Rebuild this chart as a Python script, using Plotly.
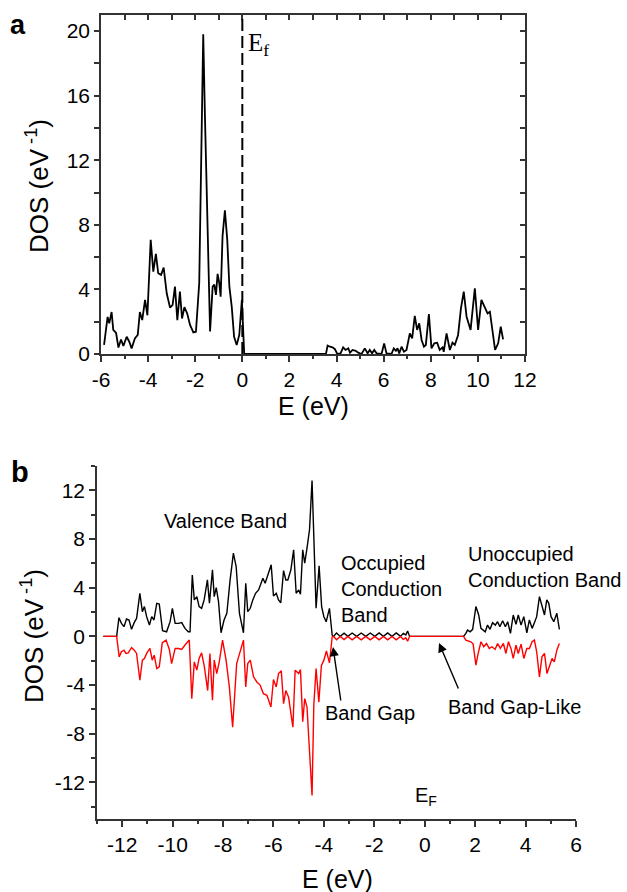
import plotly.graph_objects as go

# ---------------- data: panel a ----------------
a_energy = [-5.87, -5.72, -5.65, -5.55, -5.48, -5.36, -5.26, -5.15, -5.05, -4.91, -4.8, -4.7,
            -4.56, -4.44, -4.35, -4.25, -4.13, -4.03, -3.89, -3.78, -3.67, -3.57, -3.45, -3.34,
            -3.21, -3.07, -2.96, -2.86, -2.76, -2.65, -2.56, -2.46, -2.34, -2.22, -2.08, -1.97,
            -1.83, -1.73, -1.66, -1.59, -1.49, -1.37, -1.26, -1.19, -1.12, -1.05, -0.98, -0.92,
            -0.84, -0.74, -0.64, -0.55, -0.45, -0.35, -0.24, -0.13, -0.02, 0.04, 0.08,
            3.55, 3.62, 3.72, 3.83, 3.93, 4.03, 4.17, 4.28, 4.38, 4.5, 4.57, 4.68, 4.81, 4.92,
            5.06, 5.2, 5.32, 5.41, 5.51, 5.6, 5.7, 5.91, 6.02, 6.12, 6.33, 6.43, 6.52, 6.59,
            6.66, 6.76, 6.86, 6.97, 7.11, 7.21, 7.32, 7.42, 7.51, 7.61, 7.71, 7.79, 7.92, 8.03,
            8.15, 8.27, 8.38, 8.5, 8.55, 8.67, 8.81, 8.92, 9.02, 9.16, 9.28, 9.4, 9.52, 9.69,
            9.87, 10.01, 10.15, 10.29, 10.41, 10.51, 10.65, 10.73, 10.86, 10.97, 11.07]
a_dos = [0.56, 2.3, 1.9, 2.6, 1.5, 1.3, 0.4, 0.9, 0.5, 1.07, 0.76, 0.35,
         0.97, 1.18, 2.6, 2.1, 3.35, 2.4, 7.07, 5.1, 6.2, 5.0, 4.9, 5.35,
         3.76, 2.87, 3.04, 4.17, 2.1, 3.86, 2.2, 2.9, 2.5, 1.8, 1.34, 1.38,
         4.4, 14.5, 19.8, 14.9, 7.9, 1.4, 4.17, 4.3, 3.66, 4.96, 4.4, 3.55,
         7.3, 8.9, 7.07, 4.17, 2.93, 1.07, 0.56, 1.18, 3.35, 0.87, 0.0,
         0.0, 0.52, 0.45, 0.41, 0.3, 0.0, 0.04, 0.41, 0.25, 0.35, 0.08, 0.25, 0.2, 0.08,
         0.0, 0.35, 0.04, 0.25, 0.04, 0.25, 0.04, 0.0, 0.66, 0.04, 0.0, 0.35, 0.2, 0.35,
         0.04, 0.45, 0.14, 0.25, 1.28, 0.97, 2.36, 1.49, 1.9, 0.87, 0.45, 0.56, 2.48, 0.35,
         0.66, 0.7, 0.25, 0.41, 0.14, 1.28, 0.25, 0.7, 0.56, 1.18, 2.83, 3.86, 2.31, 1.49,
         4.07, 1.49, 3.35, 2.93, 2.52, 2.62, 1.28, 0.25, 0.66, 1.69, 0.91]

# ---------------- data: panel b (spin up, black) ----------------
b_energy_up = [-12.75, -12.22, -12.13, -12.03, -11.93, -11.83, -11.73, -11.63, -11.52, -11.43,
               -11.3, -11.2, -11.12, -11.03, -10.92, -10.83, -10.74, -10.63, -10.53, -10.4,
               -10.24, -10.1, -10.01, -9.9, -9.77, -9.64, -9.51, -9.38, -9.31, -9.22, -9.14,
               -9.04, -8.95, -8.85, -8.75, -8.62, -8.54, -8.42, -8.35, -8.27, -8.18, -8.08,
               -7.96, -7.85, -7.72, -7.59, -7.48, -7.35, -7.19, -7.1, -7.02, -6.92, -6.82,
               -6.71, -6.59, -6.5, -6.42, -6.33, -6.2, -6.09, -6.0, -5.89, -5.8, -5.71, -5.6,
               -5.51, -5.43, -5.31, -5.2, -5.1, -5.0, -4.93, -4.84, -4.76, -4.67, -4.57, -4.47,
               -4.4, -4.31, -4.19, -4.09, -4.0, -3.91, -3.78, -3.67,
               -3.62, -3.5, -3.35, -3.2, -3.05, -2.88, -2.7, -2.52, -2.34, -2.16, -1.98, -1.81,
               -1.64, -1.47, -1.3, -1.13, -0.96, -0.85, -0.75, -0.68, -0.6,
               1.54, 1.63, 1.7, 1.8, 1.9, 2.03, 2.14, 2.23, 2.34, 2.4, 2.49, 2.59, 2.69, 2.8,
               2.89, 2.98, 3.09, 3.2, 3.29, 3.4, 3.51, 3.62, 3.71, 3.82, 3.93, 4.05, 4.15,
               4.26, 4.35, 4.44, 4.55, 4.65, 4.75, 4.84, 4.92, 5.01, 5.12, 5.24, 5.34]
b_dos_up = [0.0, 0.0, 1.54, 1.07, 0.8, 1.43, 1.35, 0.58, 1.15, 1.48,
            3.54, 2.03, 2.45, 1.62, 0.93, 1.62, 1.35, 2.72, 2.66, 0.47,
            0.38, 1.21, 2.31, 1.07, 1.07, 1.13, 0.66, 0.38, 0.38, 5.05, 3.0,
            3.27, 2.45, 2.31, 3.0, 4.64, 2.72, 5.47, 3.27, 4.01, 2.86, 0.3,
            1.35, 1.9, 4.64, 6.84, 5.74, 1.9, 0.3, 4.37, 2.03, 2.31, 3.0,
            3.54, 3.82, 4.37, 4.78, 4.37, 5.19, 5.88, 3.32, 3.54, 3.0, 2.77, 5.41,
            4.64, 4.64, 5.47, 7.12, 3.54, 3.82, 3.46, 7.12, 6.02, 7.25, 8.76, 12.8,
            7.66, 2.31, 5.8, 2.45, 1.62, 1.2, 2.31, 0.1,
            0.0, 0.28, 0.0, 0.26, 0.0, 0.28, 0.0, 0.28, 0.0, 0.28, 0.0, 0.28,
            0.0, 0.28, 0.0, 0.28, 0.0, 0.25, 0.12, 0.45, 0.0,
            0.0, 0.25, 0.52, 0.38, 0.58, 2.45, 1.76, 0.66, 0.52, 0.38, 0.93, 0.58, 1.13, 0.93,
            1.21, 0.8, 1.29, 0.8, 1.21, 0.25, 1.76, 0.99, 1.76, 0.93, 1.62, 0.3, 1.35,
            0.66, 1.13, 1.62, 3.27, 2.58, 1.76, 3.0, 2.72, 1.62, 1.21, 1.9, 0.58]

# ---------------- data: panel b (spin down, red) ----------------
b_energy_down = [-12.75, -12.22, -12.12, -12.03, -11.93, -11.85, -11.76, -11.63, -11.52, -11.43,
                 -11.3, -11.2, -11.12, -11.03, -10.9, -10.81, -10.73, -10.63, -10.53, -10.41,
                 -10.26, -10.13, -10.04, -9.9, -9.77, -9.64, -9.51, -9.34, -9.24, -9.14, -9.04,
                 -8.95, -8.85, -8.74, -8.61, -8.52, -8.42, -8.35, -8.25, -8.15, -8.02, -7.88,
                 -7.75, -7.62, -7.46, -7.32, -7.19, -7.1, -7.02, -6.92, -6.79, -6.66, -6.53,
                 -6.4, -6.26, -6.1, -6.0, -5.89, -5.8, -5.69, -5.6, -5.51, -5.4, -5.23, -5.14,
                 -5.0, -4.93, -4.84, -4.76, -4.67, -4.47, -4.4, -4.31, -4.2, -4.1, -4.0, -3.9,
                 -3.78, -3.67,
                 -3.62, -3.5, -3.35, -3.2, -3.05, -2.88, -2.7, -2.52, -2.34, -2.16, -1.98, -1.81,
                 -1.64, -1.47, -1.3, -1.13, -0.96, -0.85, -0.75, -0.68, -0.6,
                 1.54, 1.63, 1.74, 1.83, 1.92, 2.03, 2.12, 2.23, 2.34, 2.45, 2.56, 2.67, 2.79,
                 2.89, 3.0, 3.12, 3.22, 3.32, 3.42, 3.51, 3.62, 3.71, 3.82, 3.93, 4.05, 4.15,
                 4.26, 4.35, 4.44, 4.55, 4.65, 4.75, 4.85, 4.95, 5.05, 5.14, 5.24, 5.34]
b_dos_down = [0.0, 0.0, -1.68, -1.26, -1.13, -1.4, -1.35, -0.91, -1.13, -1.4,
              -3.6, -1.95, -1.81, -1.4, -0.99, -1.95, -1.54, -2.64, -2.5, -0.52,
              -0.3, -1.07, -2.23, -0.99, -0.99, -1.07, -0.71, -0.3, -5.11, -2.09, -2.77,
              -1.81, -1.35, -2.5, -4.45, -1.4, -5.25, -1.95, -3.05, -2.09, -0.3, -1.95,
              -4.15, -7.45, -2.23, -1.26, -0.3, -4.15, -2.23, -1.95, -3.32, -3.74, -4.0,
              -4.7, -4.84, -5.8, -3.54, -4.15, -3.05, -2.83, -5.52, -4.45, -5.0, -7.45, -2.77,
              -3.05, -2.72, -7.0, -5.11, -5.8, -13.07, -5.66, -2.64, -5.4, -2.4, -1.95, -1.2,
              -2.17, -0.03,
              0.0, -0.28, 0.0, -0.26, 0.0, -0.28, 0.0, -0.28, 0.0, -0.28, 0.0, -0.28,
              0.0, -0.28, 0.0, -0.28, 0.0, -0.25, -0.12, -0.4, 0.0,
              0.0, -0.3, -0.36, -0.44, -0.63, -2.36, -1.4, -0.44, -0.85, -0.58, -0.99, -0.85, -1.07,
              -0.58, -0.99, -0.58, -1.4, -0.44, -0.99, -1.81, -0.71, -1.4, -0.63, -1.81, -0.99, -0.99,
              -0.44, -0.3, -1.26, -3.32, -1.68, -1.4, -3.05, -2.5, -1.81, -2.09, -1.13, -0.58]

# ---------------- ticks / labels ----------------
a_xticks = [-6, -4, -2, 0, 2, 4, 6, 8, 10, 12]
a_yticks = [0, 4, 8, 12, 16, 20]
b_xticks = [-12, -10, -8, -6, -4, -2, 0, 2, 4, 6]
b_yticks = [-12, -8, -4, 0, 4, 8, 12]

W, H = 627, 892
FONT = "Liberation Sans, Arial, sans-serif"
AX = "#333333"


def px(x):
    return x / W


def py(y):
    return 1 - y / H


def labels(vals):
    return [str(v) for v in vals]  # plain hyphen-minus like the original


fig = go.Figure()
fig.add_trace(go.Scatter(x=a_energy, y=a_dos, mode="lines",
                         line=dict(color="black", width=1.8),
                         xaxis="x", yaxis="y", showlegend=False))
fig.add_trace(go.Scatter(x=b_energy_up, y=b_dos_up, mode="lines",
                         line=dict(color="black", width=1.4),
                         xaxis="x2", yaxis="y2", showlegend=False))
fig.add_trace(go.Scatter(x=b_energy_down, y=b_dos_down, mode="lines",
                         line=dict(color="#ff0000", width=1.4),
                         xaxis="x2", yaxis="y2", showlegend=False))
# invisible carriers so the mirrored top/right axes of panel a are drawn
fig.add_trace(go.Scatter(x=[0], y=[0], mode="markers", marker=dict(opacity=0, size=1),
                         xaxis="x3", yaxis="y", showlegend=False, hoverinfo="skip"))
fig.add_trace(go.Scatter(x=[0], y=[0], mode="markers", marker=dict(opacity=0, size=1),
                         xaxis="x", yaxis="y3", showlegend=False, hoverinfo="skip"))

TF = dict(family=FONT, size=21, color="black")
axis_common = dict(showline=True, linecolor=AX, linewidth=1.5, showgrid=False,
                   zeroline=False, ticks="outside", tickcolor=AX, tickwidth=1.5,
                   tickfont=TF, automargin=False)
minor_common = dict(ticks="outside", tickcolor=AX, tickwidth=1.5)

fig.update_layout(
    width=W, height=H,
    margin=dict(l=0, r=0, t=0, b=0, autoexpand=False),
    paper_bgcolor="white", plot_bgcolor="white",
    showlegend=False,
    xaxis=dict(axis_common, domain=[px(101), px(525)], anchor="y", range=[-6, 12],
               tickmode="array", tickvals=a_xticks, ticktext=labels(a_xticks), ticklen=6,
               minor=dict(minor_common, dtick=1, tick0=0, ticklen=3.5)),
    yaxis=dict(axis_common, domain=[py(354), py(15)], anchor="x", range=[0, 21],
               tickmode="array", tickvals=a_yticks, ticktext=labels(a_yticks), ticklen=5,
               minor=dict(minor_common, dtick=2, tick0=0, ticklen=5)),
    xaxis3=dict(overlaying="x", side="top", anchor="y", range=[-6, 12], showline=True,
                linecolor=AX, linewidth=1.5, ticks="inside", ticklen=5,
                tickcolor=AX, tickwidth=1.5, tickmode="linear", dtick=1, tick0=0,
                showticklabels=False, showgrid=False, zeroline=False, automargin=False),
    yaxis3=dict(overlaying="y", side="right", anchor="x", range=[0, 21], showline=True,
                linecolor=AX, linewidth=1.5, ticks="inside", ticklen=5,
                tickcolor=AX, tickwidth=1.5, tickmode="linear", dtick=2, tick0=0,
                showticklabels=False, showgrid=False, zeroline=False, automargin=False),
    xaxis2=dict(axis_common, domain=[px(97), px(576)], anchor="y2", range=[-13, 6],
                tickmode="array", tickvals=b_xticks, ticktext=labels(b_xticks), ticklen=6,
                minor=dict(minor_common, dtick=1, tick0=0, ticklen=3.5)),
    yaxis2=dict(axis_common, domain=[py(819), py(466)], anchor="x2", range=[-15, 14],
                tickmode="array", tickvals=b_yticks, ticktext=labels(b_yticks), ticklen=6,
                minor=dict(minor_common, dtick=2, tick0=0, ticklen=4)),
)

# Fermi level (dashed) in panel a
fig.add_shape(type="line", xref="x", yref="y", x0=0, x1=0, y0=0, y1=21,
              line=dict(color="black", width=2, dash="12px,5px"))


def txt(x, y, text, size=20, xanchor="center", yanchor="middle", family=FONT,
        angle=0, align="center"):
    fig.add_annotation(xref="paper", yref="paper", x=px(x), y=py(y), text=text,
                       showarrow=False, xanchor=xanchor, yanchor=yanchor, align=align,
                       textangle=angle, font=dict(family=family, size=size, color="black"))


# panel letters
txt(18, 25, "<b>a</b>", size=27)
txt(20, 472, "<b>b</b>", size=29)

# axis titles
txt(37, 186, "DOS (eV<sup> -1</sup>)", size=26, angle=-90)
txt(313, 406, "E (eV)", size=25)
txt(32, 636, "DOS (eV<sup> -1</sup>)", size=26, angle=-90)
txt(337, 879, "E (eV)", size=25)

# E_f in panel a
txt(246, 27, "E<sub>f</sub>", size=25, xanchor="left", yanchor="top",
    family="Liberation Serif, Times New Roman, serif")

# panel b labels
txt(226, 521, "Valence Band")
txt(339, 550, "Occupied<br>Conduction<br>Band", xanchor="left", yanchor="top", align="left")
txt(466, 541, "Unoccupied<br>Conduction Band", xanchor="left", yanchor="top", align="left")
txt(370, 713, "Band Gap")
txt(514, 707, "Band Gap-Like")
txt(413, 782, "E<sub>F</sub>", size=20, xanchor="left", yanchor="top")

# arrows
for hx, hy, dx, dy in [(333, 647, 8, 55), (439, 643, 20, 47)]:
    fig.add_annotation(xref="paper", yref="paper", x=px(hx), y=py(hy), text="",
                       showarrow=True, ax=dx, ay=dy, arrowhead=2, arrowsize=1.3,
                       arrowwidth=1.4, arrowcolor="black", standoff=0)

# the page's default 8px body margin would offset the figure inside the window
fig.write_html("out.html", config={"displayModeBar": False},
               post_script="document.body.style.margin='0';")
